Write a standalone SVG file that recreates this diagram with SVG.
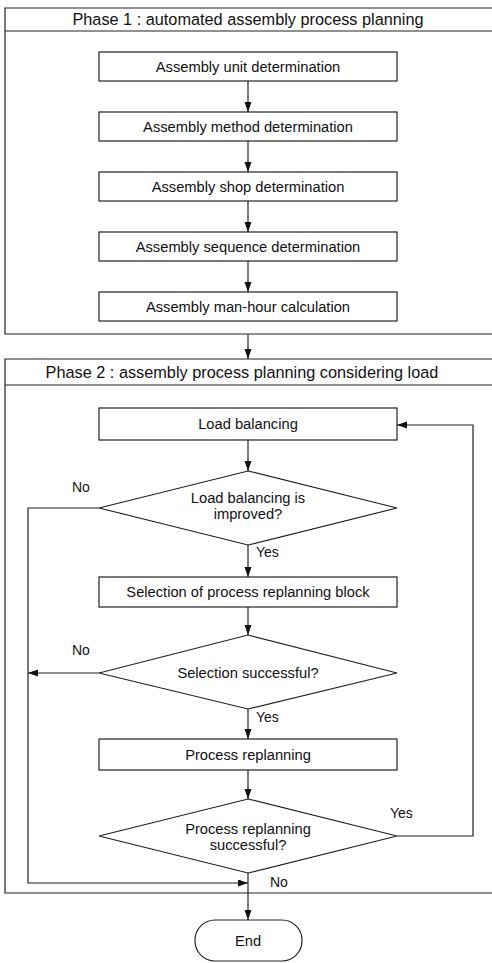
<svg xmlns="http://www.w3.org/2000/svg" width="492" height="963" viewBox="0 0 492 963">
<style>
.frame{fill:none;stroke:#222;stroke-width:1.2}
.box{fill:#fff;stroke:#222;stroke-width:1.2}
.t{font-family:"Liberation Sans",Arial,sans-serif;font-size:14.7px;fill:#111;text-anchor:middle}
.h{font-family:"Liberation Sans",Arial,sans-serif;font-size:16.3px;fill:#111;text-anchor:middle}
.lbl{font-family:"Liberation Sans",Arial,sans-serif;font-size:14px;fill:#111}
.c{fill:none;stroke:#222;stroke-width:1.2}
</style>
<defs>
<marker id="arr" markerUnits="userSpaceOnUse" markerWidth="10" markerHeight="8" refX="10" refY="3.5" orient="auto">
<path d="M0,0 L10,3.5 L0,7 z" fill="#111"/>
</marker>
</defs>
<rect width="492" height="963" fill="#fff"/>
<g id="phase1">
<path class="frame" d="M500 8 H5 V334 H500"/>
<line class="frame" x1="5" y1="31" x2="500" y2="31"/>
<text class="h" x="248" y="25">Phase 1 : automated assembly process planning</text>
</g>
<g id="phase2">
<path class="frame" d="M500 359 H5 V893 H500"/>
<line class="frame" x1="5" y1="385" x2="500" y2="385"/>
<text class="h" x="242" y="378">Phase 2 : assembly process planning considering load</text>
</g>
<g id="connectors">
<path class="c" d="M248 81 V112" marker-end="url(#arr)"/>
<path class="c" d="M248 141 V172" marker-end="url(#arr)"/>
<path class="c" d="M248 201 V232" marker-end="url(#arr)"/>
<path class="c" d="M248 261 V292" marker-end="url(#arr)"/>
<path class="c" d="M248 334 V359" marker-end="url(#arr)"/>
<path class="c" d="M248 440 V471" marker-end="url(#arr)"/>
<path class="c" d="M248 545 V577" marker-end="url(#arr)"/>
<path class="c" d="M248 607 V635" marker-end="url(#arr)"/>
<path class="c" d="M248 709 V739" marker-end="url(#arr)"/>
<path class="c" d="M248 770 V799" marker-end="url(#arr)"/>
<path class="c" d="M248 873 V920" marker-end="url(#arr)"/>
<path class="c" d="M99 508 H28 V883 H248" marker-end="url(#arr)"/>
<path class="c" d="M99 673 H28" marker-end="url(#arr)"/>
<path class="c" d="M397 836 H473 V425 H397" marker-end="url(#arr)"/>
<text class="lbl" x="72" y="492">No</text>
<text class="lbl" x="256" y="557">Yes</text>
<text class="lbl" x="72" y="655">No</text>
<text class="lbl" x="256" y="722">Yes</text>
<text class="lbl" x="390" y="818">Yes</text>
<text class="lbl" x="270" y="887">No</text>
</g>
<g id="n1"><rect class="box" x="99" y="52" width="298" height="29"/><text class="t" x="248" y="71.5">Assembly unit determination</text></g>
<g id="n2"><rect class="box" x="99" y="112" width="298" height="29"/><text class="t" x="248" y="131.5">Assembly method determination</text></g>
<g id="n3"><rect class="box" x="99" y="172" width="298" height="29"/><text class="t" x="248" y="191.5">Assembly shop determination</text></g>
<g id="n4"><rect class="box" x="99" y="232" width="298" height="29"/><text class="t" x="248" y="251.5">Assembly sequence determination</text></g>
<g id="n5"><rect class="box" x="99" y="292" width="298" height="29"/><text class="t" x="248" y="311.5">Assembly man-hour calculation</text></g>
<g id="n6"><rect class="box" x="99" y="408" width="298" height="32"/><text class="t" x="248" y="429">Load balancing</text></g>
<g id="d1"><polygon class="box" points="248,471 397,508 248,545 99,508"/><text class="t" x="248" y="503">Load balancing is</text><text class="t" x="248" y="519">improved?</text></g>
<g id="n7"><rect class="box" x="99" y="577" width="298" height="30"/><text class="t" x="248" y="597">Selection of process replanning block</text></g>
<g id="d2"><polygon class="box" points="248,635 397,673 248,709 99,673"/><text class="t" x="248" y="678">Selection successful?</text></g>
<g id="n8"><rect class="box" x="99" y="739" width="298" height="31"/><text class="t" x="248" y="759.5">Process replanning</text></g>
<g id="d3"><polygon class="box" points="248,799 397,836 248,873 99,836"/><text class="t" x="248" y="834">Process replanning</text><text class="t" x="248" y="850">successful?</text></g>
<g id="end"><rect class="box" x="195" y="920" width="107" height="41" rx="20" ry="20"/><text class="t" x="248" y="946">End</text></g>
</svg>
